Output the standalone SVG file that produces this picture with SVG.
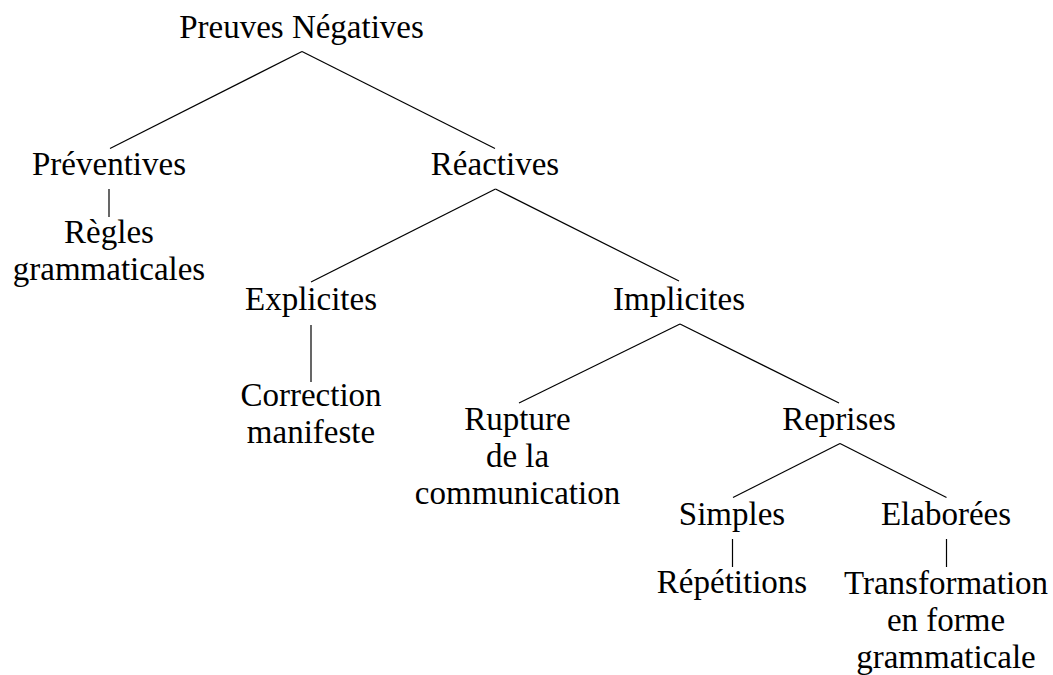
<svg xmlns="http://www.w3.org/2000/svg" width="1053" height="675" viewBox="0 0 1053 675">
<style>
  .lbl { font-family: 'Liberation Serif', 'DejaVu Serif', 'Times New Roman', serif; font-size: 33px; fill: #000; text-anchor: middle; }
  .edge { stroke: #000; stroke-width: 1.2; fill: none; }
</style>
<rect width="1053" height="675" fill="#fff"/>
<g id="connectors">
  <path class="edge" d="M302,51.5 L110,148.5"/>
  <path class="edge" d="M302,51.5 L495,148.5"/>
  <path class="edge" d="M109,189 L109,217"/>
  <path class="edge" d="M495.5,189 L311,282"/>
  <path class="edge" d="M495.5,189 L679,281"/>
  <path class="edge" d="M311,325 L311,382"/>
  <path class="edge" d="M680,324 L519,403"/>
  <path class="edge" d="M680,324 L839,403"/>
  <path class="edge" d="M840,443.5 L733,497.5"/>
  <path class="edge" d="M840,443.5 L946.5,497.5"/>
  <path class="edge" d="M732.5,539 L732.5,567"/>
  <path class="edge" d="M946.5,539 L946.5,567"/>
</g>
<g class="lbl" font-family="Liberation Serif, DejaVu Serif, serif">
<g id="root"><text x="301.5" y="37.5">Preuves Négatives</text></g>
<g id="preventives"><text x="109" y="175">Préventives</text></g>
<g id="regles"><text x="109" y="243">Règles</text><text x="109" y="280">grammaticales</text></g>
<g id="reactives"><text x="495" y="175">Réactives</text></g>
<g id="explicites"><text x="311" y="310">Explicites</text></g>
<g id="correction"><text x="311" y="406">Correction</text><text x="311" y="443">manifeste</text></g>
<g id="implicites"><text x="679" y="310">Implicites</text></g>
<g id="rupture"><text x="517.5" y="430">Rupture</text><text x="517.5" y="467">de la</text><text x="517.5" y="504">communication</text></g>
<g id="reprises"><text x="839" y="430">Reprises</text></g>
<g id="simples"><text x="732" y="525">Simples</text></g>
<g id="repetitions"><text x="732" y="593">Répétitions</text></g>
<g id="elaborees"><text x="946" y="525">Elaborées</text></g>
<g id="transformation"><text x="946" y="594">Transformation</text><text x="946" y="631">en forme</text><text x="946" y="668">grammaticale</text></g>
</g>
</svg>
